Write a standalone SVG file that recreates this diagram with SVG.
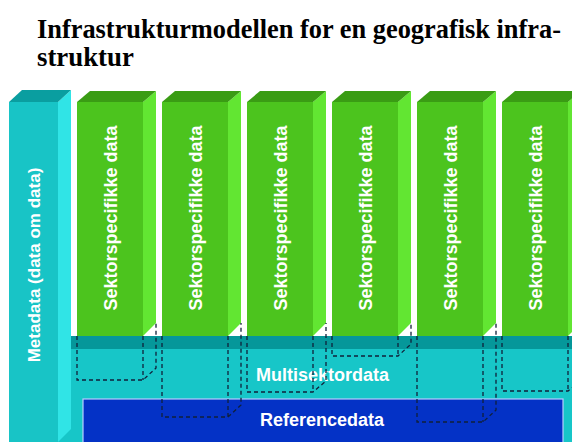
<svg xmlns="http://www.w3.org/2000/svg" width="572" height="442" viewBox="0 0 572 442">
<style>
.title{font-family:"Liberation Serif","Times New Roman",serif;font-weight:bold;font-size:26.8px;fill:#000}
.lbl{font-family:"Liberation Sans",Arial,sans-serif;font-weight:bold;fill:#fff}
.gf{fill:#4cc41e}
.gs{fill:#62e632}
.gt{fill:#3a9c14}
.hid{fill:none;stroke:#10203a;stroke-width:1.3;stroke-dasharray:4 3}
</style>
<rect width="572" height="442" fill="#fff"/>
<text class="title" x="37" y="38" textLength="524" lengthAdjust="spacingAndGlyphs">Infrastrukturmodellen for en geografisk infra-</text>
<text class="title" x="37" y="66">struktur</text>

<g id="multisektordata">
<rect x="58" y="349" width="514" height="93" fill="#17c6c8"/>
<rect x="71" y="336" width="501" height="13" fill="#05979a"/>
<text class="lbl" x="256" y="381" font-size="18">Multisektordata</text>
</g>

<g id="referencedata">
<rect x="83" y="399" width="480" height="45" fill="#0432c6" stroke="#b8ccff" stroke-width="1.2"/>
<text class="lbl" x="260" y="426" font-size="18">Referencedata</text>
</g>

<g id="metadata">
<rect x="9" y="102" width="49" height="340" fill="#18c4c6"/>
<polygon points="58,102 71,90 71,429 58,442" fill="#30e4e6"/>
<polygon points="9,102 22,90 71,90 58,102" fill="#0a9ea0"/>
<text class="lbl" font-size="17" text-anchor="middle" transform="translate(40,265) rotate(-90)">Metadata (data om data)</text>
</g>

<g id="sektor1">
<rect class="gf" x="77" y="102" width="66" height="234"/>
<polygon class="gs" points="143,102 156,91 156,323 143,336"/>
<polygon class="gt" points="77,102 90,91 156,91 143,102"/>
<text class="lbl" font-size="18" text-anchor="middle" transform="translate(117,218) rotate(-90)">Sektorspecifikke data</text>
</g>
<g id="sektor2">
<rect class="gf" x="162" y="102" width="66" height="234"/>
<polygon class="gs" points="228,102 241,91 241,323 228,336"/>
<polygon class="gt" points="162,102 175,91 241,91 228,102"/>
<text class="lbl" font-size="18" text-anchor="middle" transform="translate(202,218) rotate(-90)">Sektorspecifikke data</text>
</g>
<g id="sektor3">
<rect class="gf" x="247" y="102" width="66" height="234"/>
<polygon class="gs" points="313,102 326,91 326,323 313,336"/>
<polygon class="gt" points="247,102 260,91 326,91 313,102"/>
<text class="lbl" font-size="18" text-anchor="middle" transform="translate(287,218) rotate(-90)">Sektorspecifikke data</text>
</g>
<g id="sektor4">
<rect class="gf" x="332" y="102" width="66" height="234"/>
<polygon class="gs" points="398,102 411,91 411,323 398,336"/>
<polygon class="gt" points="332,102 345,91 411,91 398,102"/>
<text class="lbl" font-size="18" text-anchor="middle" transform="translate(372,218) rotate(-90)">Sektorspecifikke data</text>
</g>
<g id="sektor5">
<rect class="gf" x="417" y="102" width="66" height="234"/>
<polygon class="gs" points="483,102 496,91 496,323 483,336"/>
<polygon class="gt" points="417,102 430,91 496,91 483,102"/>
<text class="lbl" font-size="18" text-anchor="middle" transform="translate(457,218) rotate(-90)">Sektorspecifikke data</text>
</g>
<g id="sektor6">
<rect class="gf" x="502" y="102" width="66" height="234"/>
<polygon class="gs" points="568,102 581,91 581,323 568,336"/>
<polygon class="gt" points="502,102 515,91 581,91 568,102"/>
<text class="lbl" font-size="18" text-anchor="middle" transform="translate(542,218) rotate(-90)">Sektorspecifikke data</text>
</g>

<g id="connectors">
<path class="hid" d="M77,336V380H143L156,368V323M143,336V380"/>
<path class="hid" d="M162,336V417H228L241,405V323M228,336V417"/>
<path class="hid" d="M247,336V392H313L326,381V323M313,336V392"/>
<path class="hid" d="M332,336V356H398L411,344V323M398,336V356"/>
<path class="hid" d="M417,336V422H483L496,410V323M483,336V422"/>
<path class="hid" d="M502,336V391H568L573,387M568,336V391"/>
</g>
</svg>
